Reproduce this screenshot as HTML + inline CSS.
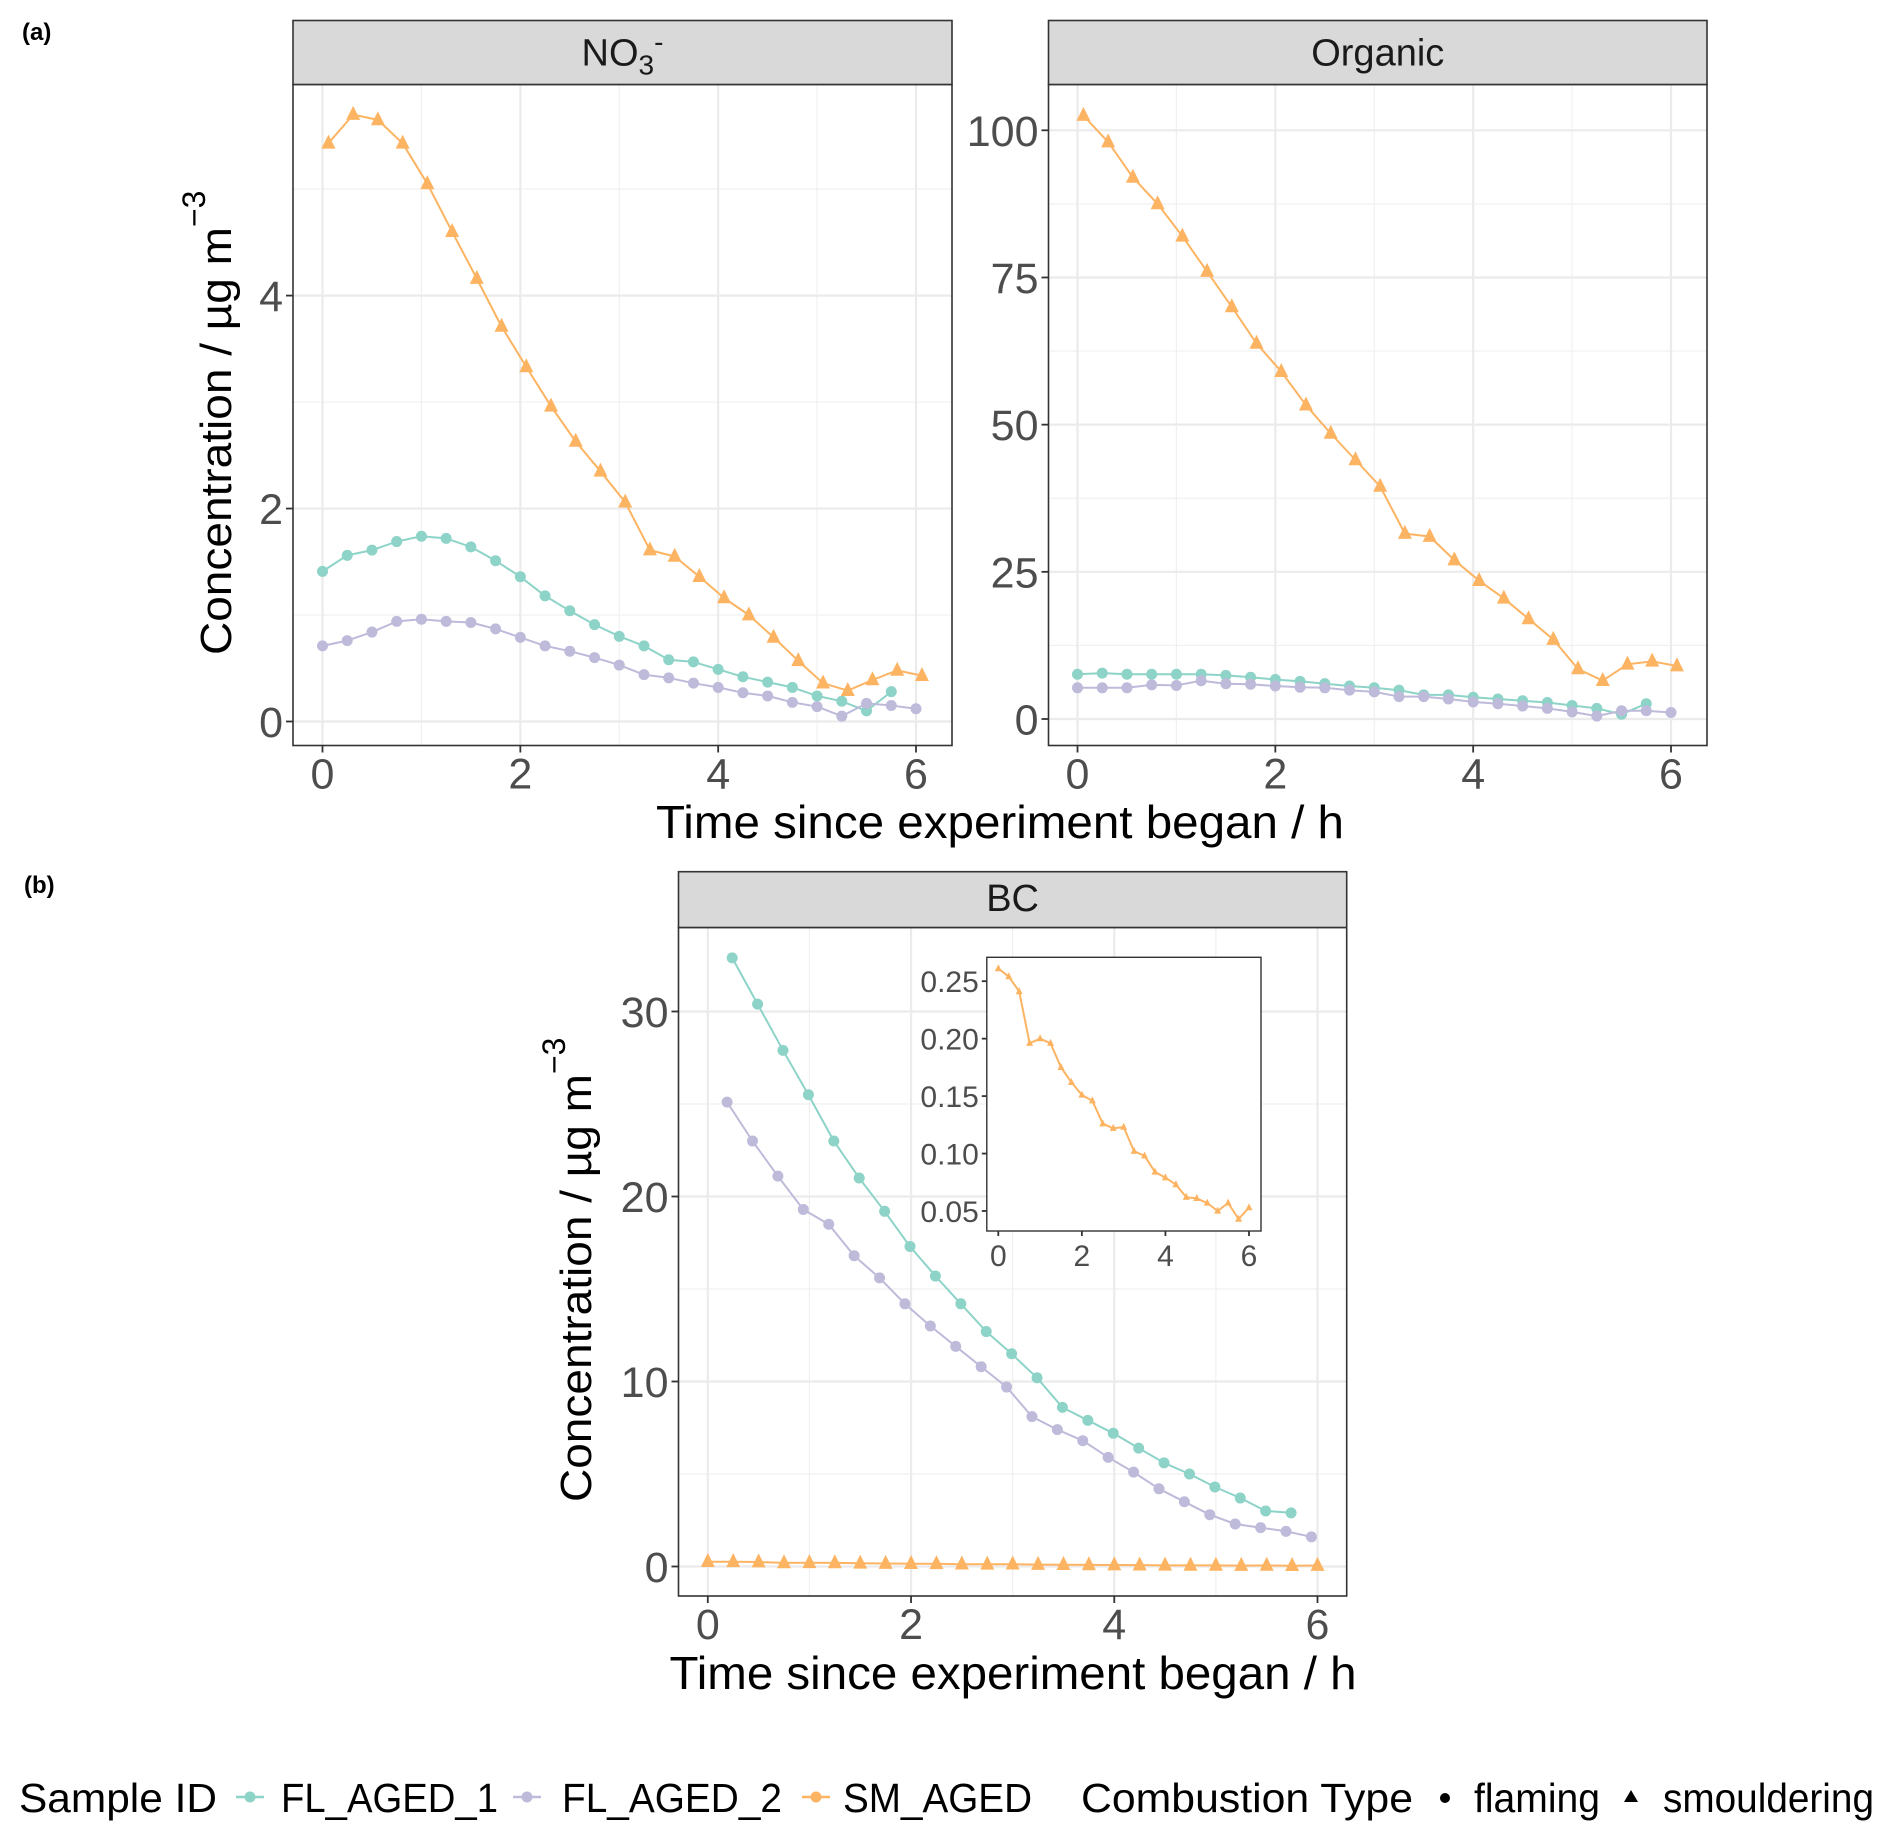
<!DOCTYPE html>
<html><head><meta charset="utf-8"><style>
html,body{margin:0;padding:0;background:#fff;}
svg{display:block;font-family:"Liberation Sans",Arial,sans-serif;}
</style></head><body>
<svg id="chart" width="1892" height="1840" viewBox="0 0 1892 1840" xmlns="http://www.w3.org/2000/svg">
<text x="22" y="40" font-size="24" font-weight="bold">(a)</text>
<text x="24" y="893" font-size="24" font-weight="bold">(b)</text>
<g id="plots"></g>
<text x="1000" y="838" font-size="46" text-anchor="middle" textLength="688" lengthAdjust="spacingAndGlyphs">Time since experiment began / h</text>
<text x="1013" y="1689" font-size="46" text-anchor="middle" textLength="687" lengthAdjust="spacingAndGlyphs">Time since experiment began / h</text>
<text transform="translate(231,655) rotate(-90)" font-size="44"><tspan textLength="428" lengthAdjust="spacingAndGlyphs">Concentration / µg m</tspan><tspan dy="-26" font-size="32">−3</tspan></text>
<text transform="translate(591,1502) rotate(-90)" font-size="44"><tspan textLength="428" lengthAdjust="spacingAndGlyphs">Concentration / µg m</tspan><tspan dy="-26" font-size="32">−3</tspan></text>
<g font-size="41">
<text x="19" y="1812" textLength="198" lengthAdjust="spacingAndGlyphs">Sample ID</text>
<line x1="236" y1="1797" x2="264" y2="1797" stroke="#8DD3C7" stroke-width="2.5"/>
<circle cx="250" cy="1797" r="5.5" fill="#8DD3C7"/>
<text x="281" y="1812" textLength="217" lengthAdjust="spacingAndGlyphs">FL_AGED_1</text>
<line x1="513" y1="1797" x2="541" y2="1797" stroke="#BEBADA" stroke-width="2.5"/>
<circle cx="527" cy="1797" r="5.5" fill="#BEBADA"/>
<text x="562" y="1812" textLength="220" lengthAdjust="spacingAndGlyphs">FL_AGED_2</text>
<line x1="802" y1="1797" x2="830" y2="1797" stroke="#FDB462" stroke-width="2.5"/>
<circle cx="816" cy="1797" r="5.5" fill="#FDB462"/>
<text x="843" y="1812" textLength="189" lengthAdjust="spacingAndGlyphs">SM_AGED</text>
<text x="1081" y="1812" textLength="332" lengthAdjust="spacingAndGlyphs">Combustion Type</text>
<circle cx="1445" cy="1798" r="5" fill="#000"/>
<text x="1474" y="1812" textLength="126" lengthAdjust="spacingAndGlyphs">flaming</text>
<polygon points="1631,1790 1638,1802 1624,1802" fill="#000"/>
<text x="1663" y="1812" textLength="211" lengthAdjust="spacingAndGlyphs">smouldering</text>
</g>
</svg>
<script>
// ---- data ----
const no3Fl1Times = [0,0.25,0.5,0.75,1,1.25,1.5,1.75,2,2.25,2.5,2.75,3,3.25,3.5,3.75,4,4.25,4.5,4.75,5,5.25,5.5,5.75];
const no3Fl1Values = [1.41,1.56,1.61,1.69,1.74,1.72,1.64,1.51,1.36,1.18,1.04,0.91,0.80,0.71,0.58,0.56,0.49,0.42,0.37,0.32,0.24,0.19,0.10,0.28];
const no3Fl2Times = [0,0.25,0.5,0.75,1,1.25,1.5,1.75,2,2.25,2.5,2.75,3,3.25,3.5,3.75,4,4.25,4.5,4.75,5,5.25,5.5,5.75,6];
const no3Fl2Values = [0.71,0.76,0.84,0.94,0.96,0.94,0.93,0.87,0.79,0.71,0.66,0.60,0.53,0.44,0.41,0.36,0.32,0.27,0.24,0.18,0.14,0.05,0.17,0.15,0.12];
const smTimes = [0.06,0.31,0.56,0.81,1.06,1.31,1.56,1.81,2.06,2.31,2.56,2.81,3.06,3.31,3.56,3.81,4.06,4.31,4.56,4.81,5.06,5.31,5.56,5.81,6.06];
const no3SmValues = [5.43,5.70,5.65,5.43,5.05,4.60,4.16,3.71,3.33,2.96,2.63,2.35,2.06,1.61,1.55,1.36,1.16,1.00,0.79,0.57,0.36,0.29,0.39,0.48,0.43];
const orgFl1Values = [7.6,7.8,7.6,7.6,7.6,7.6,7.4,7.1,6.7,6.4,6.0,5.6,5.3,4.9,4.1,4.1,3.7,3.4,3.1,2.8,2.3,1.8,0.8,2.6];
const orgFl2Values = [5.3,5.3,5.3,5.8,5.7,6.5,6.0,5.9,5.6,5.4,5.3,4.9,4.6,3.8,3.8,3.4,2.9,2.6,2.2,1.8,1.2,0.5,1.4,1.4,1.1];
const orgSmValues = [102.5,98,92,87.5,82,76,70,63.8,59,53.3,48.5,44,39.5,31.5,31,27,23.5,20.5,17,13.5,8.5,6.5,9.3,9.8,9];
const bcFl1Times = [0.24,0.49,0.74,0.99,1.24,1.49,1.74,1.99,2.24,2.49,2.74,2.99,3.24,3.49,3.74,3.99,4.24,4.49,4.74,4.99,5.24,5.49,5.74];
const bcFl1Values = [32.9,30.4,27.9,25.5,23.0,21.0,19.2,17.3,15.7,14.2,12.7,11.5,10.2,8.6,7.9,7.2,6.4,5.6,5.0,4.3,3.7,3.0,2.9];
const bcFl2Times = [0.19,0.44,0.69,0.94,1.19,1.44,1.69,1.94,2.19,2.44,2.69,2.94,3.19,3.44,3.69,3.94,4.19,4.44,4.69,4.94,5.19,5.44,5.69,5.94];
const bcFl2Values = [25.1,23.0,21.1,19.3,18.5,16.8,15.6,14.2,13.0,11.9,10.8,9.7,8.1,7.4,6.8,5.9,5.1,4.2,3.5,2.8,2.3,2.1,1.9,1.6];
const bcSmTimes = [0,0.25,0.5,0.75,1,1.25,1.5,1.75,2,2.25,2.5,2.75,3,3.25,3.5,3.75,4,4.25,4.5,4.75,5,5.25,5.5,5.75,6];
const bcSmValues = [0.261,0.254,0.241,0.196,0.200,0.196,0.175,0.162,0.151,0.146,0.126,0.122,0.123,0.102,0.098,0.084,0.079,0.073,0.062,0.061,0.057,0.050,0.057,0.043,0.053];
const xTicks = [0,2,4,6];
const no3YTicks = [0,2,4];
const orgYTicks = [0,25,50,75,100];
const bcYTicks = [0,10,20,30];
const insetYTicks = [0.05,0.10,0.15,0.20,0.25];

const NS = "http://www.w3.org/2000/svg";
const root = document.getElementById('plots');
const TEAL = "#8DD3C7", PURP = "#BEBADA", ORNG = "#FDB462";
function el(tag, attrs, parent) {
  const e = document.createElementNS(NS, tag);
  for (const k in attrs) e.setAttribute(k, attrs[k]);
  (parent || root).appendChild(e);
  return e;
}
function linScale(d0, d1, r0, r1) { return v => r0 + (v - d0) * (r1 - r0) / (d1 - d0); }

function drawPanel(p) {
  const g = el('g', {});
  
  
  const L = p.box[0], T = p.box[1], R = p.box[2], B = p.box[3];
  el('rect', {x: L, y: T, width: R - L, height: B - T, fill: '#fff'}, g);
  if (p.grid) {
    for (let i = 0; i < p.xTicks.length - 1; i++) {
      const xv = p.x((p.xTicks[i] + p.xTicks[i + 1]) / 2);
      el('line', {x1: xv, x2: xv, y1: T, y2: B, stroke: '#f0f0f0', 'stroke-width': 1.2}, g);
    }
    const ym = p.yTicks.slice();
    const step = ym[1] - ym[0];
    const minors = [];
    for (let i = 0; i < ym.length; i++) minors.push(ym[i] + step / 2);
    minors.push(ym[0] - step / 2);
    minors.forEach(v => { const yv = p.y(v); if (yv > T && yv < B) el('line', {x1: L, x2: R, y1: yv, y2: yv, stroke: '#f0f0f0', 'stroke-width': 1.2}, g); });
    p.xTicks.forEach(v => { const xv = p.x(v); el('line', {x1: xv, x2: xv, y1: T, y2: B, stroke: '#ebebeb', 'stroke-width': 2.2}, g); });
    p.yTicks.forEach(v => { const yv = p.y(v); el('line', {x1: L, x2: R, y1: yv, y2: yv, stroke: '#ebebeb', 'stroke-width': 2.2}, g); });
  }
  p.series.forEach(s => {
    const sg = el('g', {}, g);
    
    
    const pts = s.t.map((t, i) => p.x(t).toFixed(1) + ',' + p.y(s.v[i]).toFixed(1)).join(' ');
    const ln = el('polyline', {points: pts, fill: 'none', stroke: s.c, 'stroke-width': p.lw, 'stroke-linejoin': 'round'}, sg);
    
    
    s.t.forEach((t, i) => {
      const cx = p.x(t), cy = p.y(s.v[i]);
      let m;
      if (s.shape === 'circle') {
        m = el('circle', {cx: cx, cy: cy, r: p.r, fill: s.c}, sg);
      } else {
        const a = p.tri;
        m = el('polygon', {points: `${cx},${cy - a * 0.62} ${cx + a / 2},${cy + a * 0.38} ${cx - a / 2},${cy + a * 0.38}`, fill: s.c}, sg);
      }
      
      
    });
  });
  el('rect', {x: L, y: T, width: R - L, height: B - T, fill: 'none', stroke: '#333', 'stroke-width': p.grid ? 1.6 : 1.4}, g);
  p.xTicks.forEach(v => {
    const xv = p.x(v);
    el('line', {x1: xv, x2: xv, y1: B, y2: B + p.tl, stroke: '#333', 'stroke-width': 1.8}, g);
    const t = el('text', {x: xv, y: B + p.xlOff, 'font-size': p.fs, fill: '#4d4d4d', 'text-anchor': 'middle'}, g);
    t.textContent = v;
    
    
  });
  p.yTicks.forEach(v => {
    const yv = p.y(v);
    el('line', {x1: L - p.tl, x2: L, y1: yv, y2: yv, stroke: '#333', 'stroke-width': 1.8}, g);
    const t = el('text', {x: L - p.tl - 3, y: yv + p.fs * 0.36, 'font-size': p.fs, fill: '#4d4d4d', 'text-anchor': 'end'}, g);
    t.textContent = p.fmt ? p.fmt(v) : v;
    
    
  });
  if (p.strip) {
    const st = el('g', {}, g);
    
    
    el('rect', {x: L, y: p.strip, width: R - L, height: T - p.strip, fill: '#d9d9d9', stroke: '#333', 'stroke-width': 1.6}, st);
    const t = el('text', {x: (L + R) / 2, y: p.strip + (T - p.strip) * 0.70, 'font-size': 38, fill: '#1a1a1a', 'text-anchor': 'middle'}, st);
    if (p.title === 'NO3') {
      t.appendChild(document.createTextNode('NO'));
      const s1 = el('tspan', {dy: 9, 'font-size': 28}, t); s1.textContent = '3';
      const s2 = el('tspan', {dy: -23, 'font-size': 28}, t); s2.textContent = '-';
    } else t.textContent = p.title;
  }
}

drawPanel({name: 'no3', box: [293, 84.5, 952, 745.5], strip: 20.5, title: 'NO3', grid: true,
  x: linScale(0, 6, 322.5, 916), y: linScale(0, 4, 721.5, 295.6), xTicks: xTicks, yTicks: no3YTicks,
  fs: 43, tl: 7, xlOff: 43, lw: 2, r: 5.5, tri: 14,
  series: [{id: 'fl-aged-1', t: no3Fl1Times, v: no3Fl1Values, c: TEAL, shape: 'circle'},
           {id: 'fl-aged-2', t: no3Fl2Times, v: no3Fl2Values, c: PURP, shape: 'circle'},
           {id: 'sm-aged', t: smTimes, v: no3SmValues, c: ORNG, shape: 'tri'}]});
drawPanel({name: 'organic', box: [1048.5, 84.5, 1707, 745.5], strip: 20.5, title: 'Organic', grid: true,
  x: linScale(0, 6, 1077.5, 1671), y: linScale(0, 100, 719, 130.3), xTicks: xTicks, yTicks: orgYTicks,
  fs: 43, tl: 7, xlOff: 43, lw: 2, r: 5.5, tri: 14,
  series: [{id: 'fl-aged-1', t: no3Fl1Times, v: orgFl1Values, c: TEAL, shape: 'circle'},
           {id: 'fl-aged-2', t: no3Fl2Times, v: orgFl2Values, c: PURP, shape: 'circle'},
           {id: 'sm-aged', t: smTimes, v: orgSmValues, c: ORNG, shape: 'tri'}]});
drawPanel({name: 'bc', box: [678.5, 927.5, 1346.7, 1596], strip: 871.7, title: 'BC', grid: true,
  x: linScale(0, 6, 707.8, 1317.5), y: linScale(0, 30, 1566.5, 1011.5), xTicks: xTicks, yTicks: bcYTicks,
  fs: 43, tl: 7, xlOff: 43, lw: 2, r: 5.5, tri: 14,
  series: [{id: 'fl-aged-1', t: bcFl1Times, v: bcFl1Values, c: TEAL, shape: 'circle'},
           {id: 'fl-aged-2', t: bcFl2Times, v: bcFl2Values, c: PURP, shape: 'circle'},
           {id: 'sm-aged', t: bcSmTimes, v: bcSmValues, c: ORNG, shape: 'tri'}]});
drawPanel({name: 'bc-inset', box: [986.8, 957.3, 1261, 1231], grid: false,
  x: linScale(0, 6, 998.3, 1249), y: linScale(0.05, 0.25, 1211, 981.2), xTicks: xTicks, yTicks: insetYTicks,
  fs: 30, tl: 5, xlOff: 35, lw: 2, r: 3, tri: 7, fmt: v => v.toFixed(2),
  series: [{id: 'sm-aged', t: bcSmTimes, v: bcSmValues, c: ORNG, shape: 'tri'}]});
</script>
</body></html>
